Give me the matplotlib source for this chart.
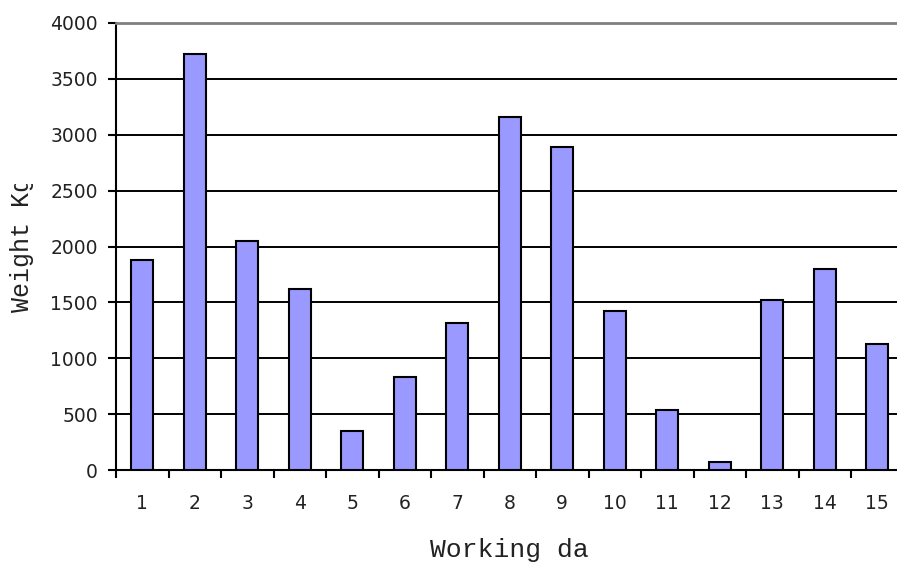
import matplotlib
matplotlib.use('Agg')
import matplotlib.pyplot as plt
from matplotlib.transforms import Bbox

days = list(range(1, 16))
weights = [1880, 3720, 2050, 1620, 350, 830, 1315, 3160, 2890, 1420, 540, 70, 1520, 1800, 1130]
yticks = [0, 500, 1000, 1500, 2000, 2500, 3000, 3500, 4000]

W, H = 897, 562
fig = plt.figure(figsize=(W / 100, H / 100), dpi=100)
ax = fig.add_axes([116 / W, 1 - 470 / H, 787.5 / W, 447 / H])

ax.bar(days, weights, width=0.42, color='#9999ff', edgecolor='black', linewidth=1.5, zorder=3)

ax.set_xlim(0.5, 15.5)
ax.set_ylim(0, 4000)
ax.set_yticks(yticks)
ax.set_yticklabels([str(v) for v in yticks], family='DejaVu Sans', fontsize=13.5, color='#222222')

# grid lines in black, the top one grey
for v in yticks[1:-1]:
    ax.axhline(v, color='black', linewidth=1.4, zorder=1)
ax.spines['top'].set_color('#808080')
ax.spines['top'].set_linewidth(2)
ax.spines['right'].set_visible(False)
ax.spines['left'].set_linewidth(1.5)
ax.spines['bottom'].set_linewidth(1.5)

# ticks sit between the categories, labels in the middle
ax.set_xticks([d - 0.5 for d in days] + [15.5])
ax.set_xticklabels([])
ax.set_xticks(days, minor=True)
ax.set_xticklabels([str(d) for d in days], minor=True, family='DejaVu Sans', fontsize=13.5, color='#222222')
ax.tick_params(axis='x', which='major', direction='out', length=6, width=1.5)
ax.tick_params(axis='x', which='minor', length=0, pad=17)
ax.tick_params(axis='y', direction='out', length=6, width=1.5, pad=7)

# axis titles are cut off in the original
fig.text(430 / W, 1 - 557 / H, 'Working da', family='Liberation Mono', fontsize=19,
         ha='left', va='baseline', color='#222222')
yl = fig.text(22 / W, 1 - 312 / H, 'Weight Kg', family='Liberation Mono', fontsize=18,
              rotation=90, ha='center', va='bottom', color='#222222')
yl.set_clip_box(Bbox.from_extents(0, 0, W, H - 184))

fig.savefig('out.png', dpi=100)
